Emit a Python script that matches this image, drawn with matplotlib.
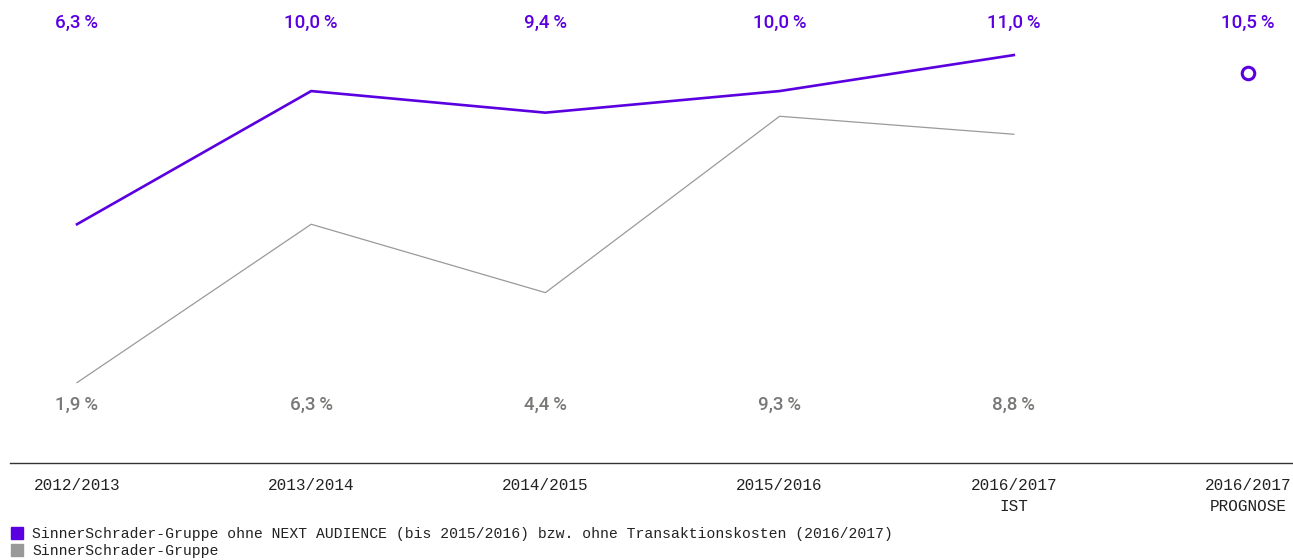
import matplotlib
matplotlib.use("Agg")
import matplotlib.pyplot as plt
from matplotlib.lines import Line2D
from matplotlib.transforms import blended_transform_factory

categories = ["2012/2013", "2013/2014", "2014/2015", "2015/2016", "2016/2017\nIST", "2016/2017\nPROGNOSE"]
purple_values = [6.3, 10.0, 9.4, 10.0, 11.0]
gray_values = [1.9, 6.3, 4.4, 9.3, 8.8]
prognose_value = 10.5
purple_labels = ["6,3\u2009%", "10,0\u2009%", "9,4\u2009%", "10,0\u2009%", "11,0\u2009%", "10,5\u2009%"]
gray_labels = ["1,9\u2009%", "6,3\u2009%", "4,4\u2009%", "9,3\u2009%", "8,8\u2009%"]
legend_labels = [
    "SinnerSchrader-Gruppe ohne NEXT AUDIENCE (bis 2015/2016) bzw. ohne Transaktionskosten (2016/2017)",
    "SinnerSchrader-Gruppe",
]

PURPLE = "#5A00E0"
GRAY_LINE = "#9a9a9a"
GRAY_TEXT = "#7a7876"
MONO = ["Liberation Mono", "DejaVu Sans Mono"]
SANS = ["Roboto", "DejaVu Sans"]

W, H = 1293, 560
fig = plt.figure(figsize=(W / 100, H / 100), dpi=100)
ax = fig.add_axes([10 / W, (H - 463) / H, (W - 10) / W, 463 / H])

xs = list(range(len(categories)))
ax.plot(xs[:len(purple_values)], purple_values, color=PURPLE, lw=1.9, solid_joinstyle="miter")
ax.plot(xs[:len(gray_values)], gray_values, color=GRAY_LINE, lw=0.9)
ax.plot([xs[5]], [prognose_value], marker="o", ms=9, mfc="white", mec=PURPLE, mew=2.2, ls="none")

ax.set_xlim(-0.286, 5.192)
ax.set_ylim(-0.333, 12.53)

# value labels
trans = blended_transform_factory(ax.transData, ax.transAxes)
for x, lab in zip(xs, purple_labels):
    ax.text(x, 1 - 23 / 463, lab, transform=trans, ha="center", va="center",
            color=PURPLE, fontsize=13.5, family=SANS, fontweight="medium")
for x, lab in zip(xs, gray_labels):
    ax.text(x, 1 - 405 / 463, lab, transform=trans, ha="center", va="center",
            color=GRAY_TEXT, fontsize=13.5, family=SANS, fontweight="medium")

ax.set_xticks(xs)
ax.set_xticklabels(categories, family=MONO, fontsize=11.5, color="#222222", linespacing=1.45)
ax.tick_params(axis="x", length=0, pad=11)
ax.set_yticks([])
for s in ["top", "right", "left"]:
    ax.spines[s].set_visible(False)
ax.spines["bottom"].set_color("#333333")
ax.spines["bottom"].set_linewidth(1.0)

handles = [
    Line2D([], [], marker="s", ls="none", color=PURPLE, ms=9),
    Line2D([], [], marker="s", ls="none", color="#999999", ms=9),
]
fig.legend(handles, legend_labels, loc="upper left", bbox_to_anchor=(10 / W, 1 - 527 / H),
           frameon=False, prop={"family": MONO, "size": 10.6}, handlelength=0.9,
           handletextpad=0.6, labelspacing=0.2, borderpad=0, borderaxespad=0,
           labelcolor="#222222")

fig.savefig("out.png", dpi=100)
